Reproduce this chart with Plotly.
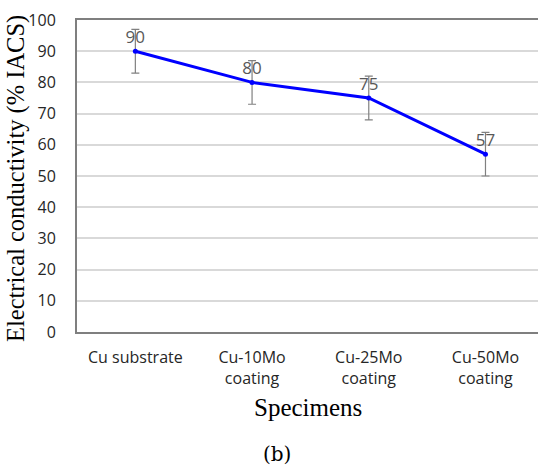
import plotly.graph_objects as go

categories = ["Cu substrate", "Cu-10Mo<br>coating", "Cu-25Mo<br>coating", "Cu-50Mo<br>coating"]
conductivity = [90, 80, 75, 57]
errors = [7, 7, 7, 7]
y_ticks = [0, 10, 20, 30, 40, 50, 60, 70, 80, 90, 100]

fig = go.Figure()
fig.add_trace(go.Scatter(
    x=list(range(len(categories))), y=conductivity,
    mode="lines+markers+text",
    line=dict(color="#0000FF", width=3),
    marker=dict(color="#0000FF", size=5),
    text=[str(v) for v in conductivity],
    textposition="top center",
    textfont=dict(family="Open Sans", size=17, color="#595959"),
    error_y=dict(type="data", array=errors, color="#808080", thickness=1.2, width=4),
    cliponaxis=False,
    showlegend=False,
))

fig.update_layout(
    width=538, height=465,
    margin=dict(l=77, r=0, t=20, b=133),
    plot_bgcolor="white", paper_bgcolor="white",
    xaxis=dict(
        range=[-0.5, 3.45],
        tickmode="array", tickvals=list(range(len(categories))), ticktext=categories,
        showgrid=False, zeroline=False,
        showline=True, linecolor="#7f7f7f", linewidth=2, mirror=True,
        ticks="", ticklabelstandoff=10,
        tickfont=dict(family="Open Sans", size=16, color="#262626"),
    ),
    yaxis=dict(
        range=[0, 100],
        tickmode="array", tickvals=y_ticks,
        showgrid=True, gridcolor="#d9d9d9", gridwidth=1.5,
        zeroline=False,
        showline=True, linecolor="#7f7f7f", linewidth=2,
        ticks="", ticklabelstandoff=16,
        tickfont=dict(family="Open Sans", size=16, color="#262626"),
    ),
    annotations=[
        dict(text="Electrical conductivity (% IACS)", xref="paper", yref="paper",
             x=-77/461, y=(332-179)/312.0, xanchor="left", yanchor="middle",
             textangle=-90, showarrow=False,
             font=dict(family="Liberation Serif", size=24.5, color="#000000")),
        dict(text="Specimens", xref="paper", yref="paper",
             x=0.5, y=-(407-332)/312.0, xanchor="center", yanchor="middle",
             showarrow=False,
             font=dict(family="Liberation Serif", size=25, color="#000000")),
        dict(text="(b)", xref="paper", yref="paper",
             x=(277-77)/461.0, y=-(454-332)/312.0, xanchor="center", yanchor="middle",
             showarrow=False,
             font=dict(family="DejaVu Serif", size=20, color="#000000")),
    ],
)

fig.write_html("out.html")
